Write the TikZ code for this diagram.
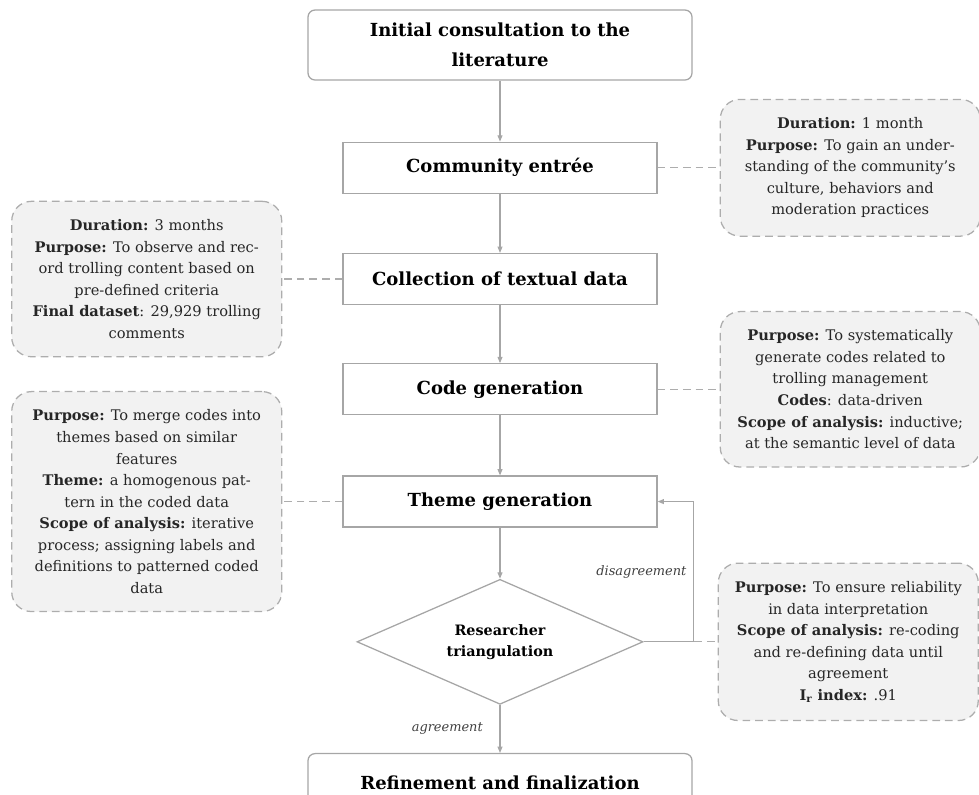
\documentclass[tikz,border=0pt]{standalone}
\usepackage{fontspec}
\setmainfont{DejaVu Serif}
\usepackage{tikz}
\usetikzlibrary{arrows.meta, positioning, shapes.geometric}
\definecolor{linegray}{HTML}{A6A6A6}
\definecolor{dashgray}{HTML}{ADADAD}
\definecolor{notefill}{HTML}{F2F2F2}

\begin{document}
\begin{tikzpicture}[
    node distance=1.5cm,
    box/.style={rectangle, draw=linegray, line width=0.9pt, minimum width=7.85cm, minimum height=1.275cm, align=center, font=\fontsize{12.8}{21}\selectfont\bfseries},
    endbox/.style={box, rounded corners=5pt, minimum width=9.6cm},
    decision/.style={diamond, draw=linegray, line width=0.9pt, aspect=2.3, inner sep=0pt, minimum width=7.15cm, minimum height=3.125cm, align=center, font=\fontsize{10.2}{15}\selectfont\bfseries},
    notebox/.style={rectangle, draw=dashgray, dash pattern=on 5.5pt off 3.5pt, line width=0.9pt, fill=notefill, rounded corners=14pt, minimum width=6.5cm, inner ysep=13pt, align=center, text=black!85, font=\fontsize{10.4}{15.3}\selectfont},
    arrow/.style={-{Triangle[length=4.5pt, width=3.5pt]}, draw=linegray, line width=0.8pt},
    notelink/.style={draw=dashgray, dash pattern=on 5.5pt off 3.5pt, line width=0.9pt},
    cond/.style={font=\fontsize{9.2}{11}\selectfont\itshape, text=black!75}
]
    \useasboundingbox (0,0) rectangle (24.475,-19.85);

    % main steps
    \node[endbox, minimum height=1.75cm] (lit) at (12.5,-1.125) {Initial consultation to the\\literature};
    \node[box, below=1.525cm of lit] (entree) {Community entrée};
    \node[box, below=1.475cm of entree] (collect) {Collection of textual data};
    \node[box, below=1.45cm of collect] (coding) {Code generation};
    \node[box, below=1.5cm of coding] (themes) {Theme generation};
    \node[decision, below=1.275cm of themes] (triang) {Researcher\\triangulation};
    \node[endbox, minimum height=1.45cm, below=1.2cm of triang] (final) {Refinement and finalization};

    % notes
    \node[notebox, right=1.55cm of entree] (entreenote) {\textbf{Duration:} 1 month\\
        \textbf{Purpose:} To gain an under-\\
        standing of the community’s\\
        culture, behaviors and\\
        moderation practices};
    \node[notebox, minimum width=6.75cm, left=1.5cm of collect] (collectnote) {\textbf{Duration:} 3 months\\
        \textbf{Purpose:} To observe and rec-\\
        ord trolling content based on\\
        pre-defined criteria\\
        \textbf{Final dataset}: 29,929 trolling\\
        comments};
    \node[notebox, right=1.55cm of coding] (codingnote) {\textbf{Purpose:} To systematically\\
        generate codes related to\\
        trolling management\\
        \textbf{Codes}: data-driven\\
        \textbf{Scope of analysis:} inductive;\\
        at the semantic level of data};
    \node[notebox, minimum width=6.75cm, left=1.5cm of themes] (themenote) {\textbf{Purpose:} To merge codes into\\
        themes based on similar\\
        features\\
        \textbf{Theme:} a homogenous pat-\\
        tern in the coded data\\
        \textbf{Scope of analysis:} iterative\\
        process; assigning labels and\\
        definitions to patterned coded\\
        data};
    \node[notebox, right=1.85cm of triang] (triangnote) {\textbf{Purpose:} To ensure reliability\\
        in data interpretation\\
        \textbf{Scope of analysis:} re-coding\\
        and re-defining data until\\
        agreement\\
        \textbf{I\textsubscript{r} index:} .91};

    % note links
    \draw[notelink] (entree) -- (entreenote);
    \draw[notelink] (collect) -- (collectnote);
    \draw[notelink] (coding) -- (codingnote);
    \draw[notelink] (themes) -- (themenote);
    \draw[notelink] (triang) -- (triangnote);

    % flow
    \draw[arrow] (lit) -- (entree);
    \draw[arrow] (entree) -- (collect);
    \draw[arrow] (collect) -- (coding);
    \draw[arrow] (coding) -- (themes);
    \draw[arrow] (themes) -- (triang);
    \draw[arrow] (triang) -- node[cond, left, xshift=-0.3cm] {agreement} (final);

    % loop back
    \coordinate[right=1.25cm of triang.east] (loop);
    \draw[arrow] (triang.east) -- (loop) |- node[cond, pos=0.25, left, xshift=-0.05cm] {disagreement} (themes.east);
\end{tikzpicture}
\end{document}
